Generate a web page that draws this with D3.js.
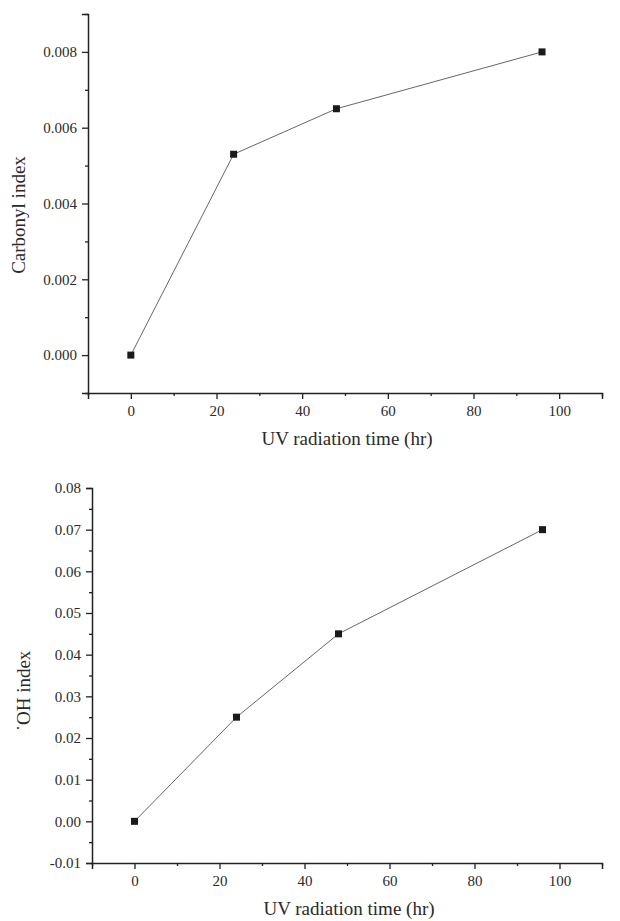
<!DOCTYPE html>
<html>
<head>
<meta charset="utf-8">
<script src="https://cdn.jsdelivr.net/npm/d3@7"></script>
<style>
  body { margin: 0; background: #fff; }
</style>
</head>
<body>
<script>
// data
var hours = [0, 24, 48, 96];
var carbonylValues = [0, 0.0053, 0.0065, 0.008];
var ohValues = [0, 0.025, 0.045, 0.070];
var xTicks = [0, 20, 40, 60, 80, 100];
var carbonylTicks = [0, 0.002, 0.004, 0.006, 0.008];
var ohTicks = [-0.01, 0, 0.01, 0.02, 0.03, 0.04, 0.05, 0.06, 0.07, 0.08];

var svgW = 620, svgH = 921;
var serif = '"Liberation Serif", "Times New Roman", Times, serif';

var svg = d3.select("body")
    .append('svg')
    .attr('width', svgW)
    .attr('height', svgH)
    .attr('font-family', serif);

// draws one panel: axes, minor ticks, line and square markers
function drawPanel(cfg) {
    var x = d3.scaleLinear().domain([-10, 110]).range([cfg.left, 602]);
    var y = d3.scaleLinear().domain(cfg.yDomain).range([cfg.bottom, cfg.top]);
    var yFmt = function(d) { return d3.format(cfg.fmt)(d).replace('\u2212', '-'); };

    var g = svg.append('g');

    // x axis
    var xAxis = g.append('g')
        .attr('transform', 'translate(0,' + cfg.bottom + ')')
        .call(d3.axisBottom(x).tickValues(xTicks).tickSize(6).tickPadding(6).tickFormat(d3.format('d')));
    xAxis.attr('font-family', serif);
    xAxis.select('.domain').attr('stroke', '#222').attr('stroke-width', 1.5);
    xAxis.selectAll('.tick line').attr('stroke', '#222').attr('stroke-width', 1.3);
    xAxis.selectAll('.tick text').style('font-size', '15px').style('font-family', serif).attr('fill', '#2a2a2a');

    // x minor ticks
    g.append('g')
        .attr('transform', 'translate(0,' + cfg.bottom + ')')
        .call(d3.axisBottom(x).tickValues(d3.range(-10, 111, 10).filter(function(v) { return v % 20 !== 0; })).tickSize(3).tickFormat(''))
        .call(function(s) { s.select('.domain').remove(); s.selectAll('line').attr('stroke', '#222').attr('stroke-width', 1.3); });

    // y axis
    var yAxis = g.append('g')
        .attr('transform', 'translate(' + cfg.left + ',0)')
        .call(d3.axisLeft(y).tickValues(cfg.yTicks).tickSize(6).tickPadding(5).tickFormat(yFmt));
    yAxis.attr('font-family', serif);
    yAxis.select('.domain').attr('stroke', '#222').attr('stroke-width', 1.5);
    yAxis.selectAll('.tick line').attr('stroke', '#222').attr('stroke-width', 1.3);
    yAxis.selectAll('.tick text').style('font-size', '15px').style('font-family', serif).attr('fill', '#2a2a2a');

    // y minor ticks
    g.append('g')
        .attr('transform', 'translate(' + cfg.left + ',0)')
        .call(d3.axisLeft(y).tickValues(cfg.yMinor).tickSize(3).tickFormat(''))
        .call(function(s) { s.select('.domain').remove(); s.selectAll('line').attr('stroke', '#222').attr('stroke-width', 1.3); });

    // axis titles
    g.append('text')
        .attr('x', (cfg.left + 602) / 2 + 2)
        .attr('y', cfg.bottom + 52)
        .attr('text-anchor', 'middle')
        .style('font-size', '19px')
        .style('font-family', serif)
        .attr('fill', '#2a2a2a')
        .text('UV radiation time (hr)');

    g.append('text')
        .attr('transform', 'translate(' + cfg.titleX + ',' + cfg.titleY + ') rotate(-90)')
        .attr('text-anchor', 'middle')
        .style('font-size', '19px')
        .style('font-family', serif)
        .attr('fill', '#2a2a2a')
        .text(cfg.title);

    // line
    var line = d3.line()
        .x(function(d, i) { return x(hours[i]); })
        .y(function(d) { return y(d); });

    g.append('path')
        .datum(cfg.values)
        .attr('d', line)
        .attr('fill', 'none')
        .attr('stroke', '#555')
        .attr('stroke-width', 0.9);

    // markers
    g.selectAll('rect.pt')
        .data(cfg.values)
        .enter()
        .append('rect')
        .attr('class', 'pt')
        .attr('x', function(d, i) { return x(hours[i]) - 3.5; })
        .attr('y', function(d) { return y(d) - 3.5; })
        .attr('width', 7)
        .attr('height', 7)
        .attr('fill', '#1a1a1a');
}

//top panel: carbonyl index
drawPanel({
    left: 88, top: 14, bottom: 393,
    yDomain: [-0.001, 0.009],
    yTicks: carbonylTicks,
    yMinor: [-0.001, 0.001, 0.003, 0.005, 0.007, 0.009],
    fmt: '.3f',
    values: carbonylValues,
    title: 'Carbonyl index',
    titleX: 25, titleY: 215
});

//bottom panel: OH index
drawPanel({
    left: 92, top: 488, bottom: 863,
    yDomain: [-0.01, 0.08],
    yTicks: ohTicks,
    yMinor: [-0.005, 0.005, 0.015, 0.025, 0.035, 0.045, 0.055, 0.065, 0.075],
    fmt: '.2f',
    values: ohValues,
    title: '\u02D9OH index',
    titleX: 30, titleY: 691
});
</script>
</body>
</html>
